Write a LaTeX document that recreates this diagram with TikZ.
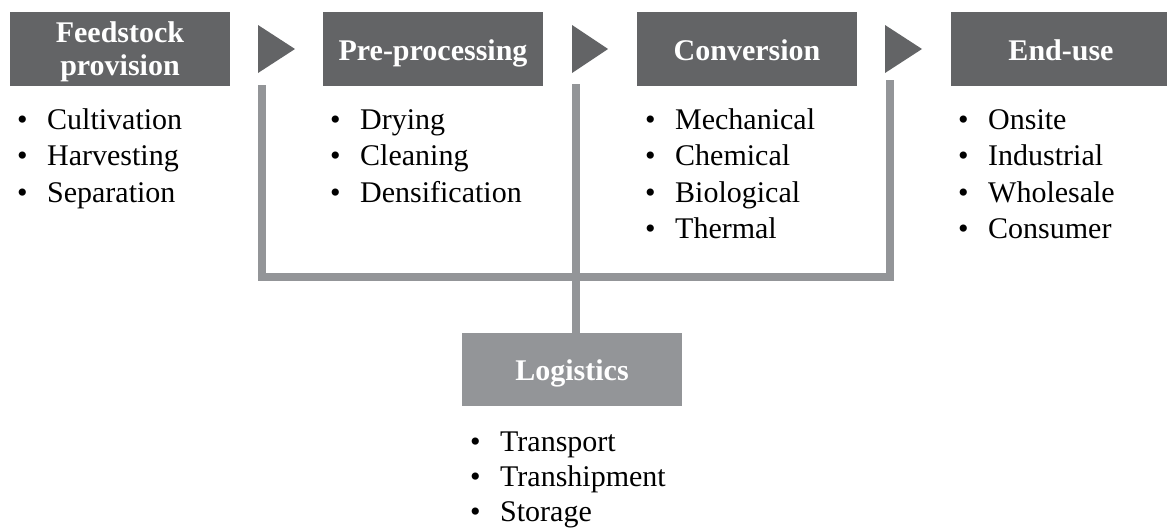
\documentclass[tikz,border=0pt]{standalone}
\usepackage{fontspec}
\setmainfont{Liberation Serif}
\definecolor{boxdark}{HTML}{636466}
\definecolor{barlight}{HTML}{939598}

% one bulleted line per node: name-1, name-2, ...
\newcommand\bulletlist[5][36.5]{%
  \foreach \t [count=\i] in {#5} {
    \node[entry] (#2-\i) at (#3, {#4 + #1*(\i-1)}) {\makebox[30pt][l]{\textbullet}\t};
  }}

\begin{document}
\begin{tikzpicture}[x=1pt,y=-1pt,
  stage/.style={fill=boxdark, minimum width=220pt, minimum height=74pt, inner sep=0pt,
    text=white, font=\fontsize{30}{33}\selectfont\bfseries, align=center,
    text height=22pt, text depth=0pt},
  logbox/.style={stage, fill=barlight, minimum height=73pt, text height=21pt},
  chevron/.style={fill=boxdark},
  bar/.style={draw=barlight, line width=8pt, line join=miter},
  entry/.style={anchor=base west, inner sep=0pt, font=\fontsize{30}{36}\selectfont}
]
\useasboundingbox (0,0) rectangle (1167,528);

% process stages (text height measured to the last baseline)
\node[stage, text height=52.5pt] (feed) at (120,49) {Feedstock\\provision};
\node[stage] (pre)  at (433,49) {Pre-processing};
\node[stage] (conv) at (747,49) {Conversion};
\node[stage] (end)  at (1061,49) {End-use};
\node[logbox] (logi) at (572,369.5) {Logistics};

% chevrons between stages
\fill[chevron] (258,25) -- (295,49) -- (258,73) -- cycle;
\fill[chevron] (572,25) -- (608,49) -- (572,73) -- cycle;
\fill[chevron] (885,25) -- (922,49) -- (885,73) -- cycle;

% logistics bracket
\coordinate (b1) at (262,85);
\coordinate (b2) at (576,84);
\coordinate (b3) at (890,80);
\coordinate (hub) at (576,277);
\draw[bar] (b1) |- (b3 |- hub) -- (b3);
\draw[bar] (b2) -- (hub |- logi.north);

% activities
\bulletlist{feedlist}{17}{129}{Cultivation,Harvesting,Separation}
\bulletlist{prelist}{330}{129}{Drying,Cleaning,Densification}
\bulletlist{convlist}{645}{129}{Mechanical,Chemical,Biological,Thermal}
\bulletlist{endlist}{958}{129}{Onsite,Industrial,Wholesale,Consumer}
\bulletlist[35]{logilist}{470}{451}{Transport,Transhipment,Storage}
\end{tikzpicture}
\end{document}
